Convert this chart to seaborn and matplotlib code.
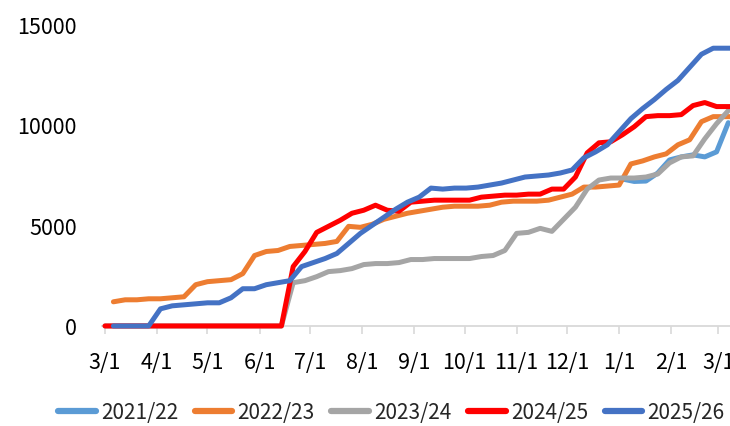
import matplotlib.pyplot as plt
import numpy as np
import pandas as pd
import seaborn as sns

# Semanas de referência (eixo comum de 3/1 a 3/1)
datas_a = pd.date_range("2025-03-01", periods=55, freq="7D")
datas_b = pd.date_range("2025-03-06", periods=54, freq="7D")

temporadas = ["2021/22", "2022/23", "2023/24", "2024/25", "2025/26"]
cores = ["#5B9BD5", "#ED7D31", "#A5A5A5", "#FF0000", "#4472C4"]

v_2122 = [7300, 7180, 7200, 7600, 8250, 8400, 8500, 8400, 8650, 10100]

v_2223 = [1200, 1300, 1300, 1350, 1350, 1400, 1450, 2050, 2200, 2250,
          2300, 2600, 3500, 3700, 3750, 3950, 4000, 4050, 4100, 4200,
          4950, 4900, 5050, 5300, 5450, 5600, 5700, 5800, 5900, 5950,
          5950, 5950, 6000, 6150, 6200, 6200, 6200, 6250, 6400, 6550,
          6900, 6900, 6950, 7000, 8050, 8200, 8400, 8550, 9000, 9250,
          10150, 10400, 10400, 10400]

v_2324 = [0] * 16 + [
    2150, 2250, 2450, 2700, 2750, 2850, 3050, 3100, 3100, 3150, 3300, 3300,
    3350, 3350, 3350, 3350, 3450, 3500, 3750, 4600, 4650, 4850, 4700, 5300, 5900,
    6800, 7250, 7350, 7350, 7350, 7400, 7550, 8100, 8400, 8450, 9300, 10050, 10700]

v_2425 = [0] * 16 + [
    2950, 3700, 4650, 4950, 5250, 5600, 5750, 6000, 5750, 5700, 6150, 6200,
    6250, 6250, 6250, 6250, 6400, 6450, 6500, 6500, 6550, 6550, 6800, 6800,
    7400, 8600, 9100, 9150, 9500, 9900, 10400, 10450, 10450, 10500, 10950,
    11100, 10900, 10900, 10900]

v_2526 = [0, 0, 0, 0,
          850, 1000, 1050, 1100, 1150, 1150, 1400, 1850, 1850, 2050,
          2150, 2250, 2950, 3150, 3350, 3600, 4100, 4600, 5000, 5400, 5800, 6150, 6400,
          6850, 6800, 6850, 6850, 6900, 7000, 7100, 7250, 7400, 7450, 7500, 7600, 7750,
          8350, 8650, 9000, 9650, 10300, 10800, 11250, 11750, 12200, 12850, 13500,
          13800, 13800, 13800]

ticks_meses = pd.date_range("2025-03-01", "2026-03-01", freq="MS")
rotulos_meses = ["3/1", "4/1", "5/1", "6/1", "7/1", "8/1", "9/1", "10/1",
                 "11/1", "12/1", "1/1", "2/1", "3/1"]
ticks_y = [0, 5000, 10000, 15000]

# Montar tabela longa
df = pd.concat([
    pd.DataFrame({"data": datas_a[44:54], "valor": v_2122, "temporada": temporadas[0]}),
    pd.DataFrame({"data": datas_b, "valor": v_2223, "temporada": temporadas[1]}),
    pd.DataFrame({"data": datas_a[:54], "valor": v_2324, "temporada": temporadas[2]}),
    pd.DataFrame({"data": datas_a, "valor": v_2425, "temporada": temporadas[3]}),
    pd.DataFrame({"data": datas_b, "valor": v_2526, "temporada": temporadas[4]}),
], ignore_index=True)

sns.set_theme(style="white")
plt.rcParams['font.family'] = ['Noto Sans CJK SC', 'DejaVu Sans']

fig = plt.figure(figsize=(7.3, 4.27), dpi=100)
ax = fig.add_axes([0.1397, 0.2225, 0.8603, 0.7424])

sns.lineplot(data=df, x="data", y="valor", hue="temporada", hue_order=temporadas,
             palette=dict(zip(temporadas, cores)), linewidth=3.6, ax=ax)

inicio = pd.Timestamp("2025-03-01")
ax.set_xlim(inicio - pd.Timedelta(days=1.8), inicio + pd.Timedelta(days=372))
ax.set_ylim(-250, 15500)
ax.set_xticks(ticks_meses)
ax.set_xticklabels(rotulos_meses)
ax.set_yticks(ticks_y)
ax.set_yticklabels([str(t) for t in ticks_y])
ax.set_xlabel("")
ax.set_ylabel("")

for lado in ["top", "right", "left"]:
    ax.spines[lado].set_visible(False)
ax.spines["bottom"].set_position(("data", 0))
ax.spines["bottom"].set_color("#D9D9D9")
ax.spines["bottom"].set_linewidth(1.3)
ax.spines["bottom"].set_zorder(0.5)
ax.tick_params(axis="x", bottom=True, length=6, width=1.2, color="#D9D9D9",
               pad=12, labelsize=15.5, labelcolor="#000000")
ax.tick_params(axis="y", left=False, pad=12, labelsize=15.5, labelcolor="#000000")

handles, labels = ax.get_legend_handles_labels()
ax.get_legend().remove()
for h in handles:
    h.set_linewidth(4.5)
fig.legend(handles, labels, loc="center", bbox_to_anchor=(0.536, 0.033), ncol=5,
           frameon=False, fontsize=15, handlelength=1.8, handletextpad=0.25,
           columnspacing=0.8, borderaxespad=0)

fig.savefig("out.png", dpi=100)
